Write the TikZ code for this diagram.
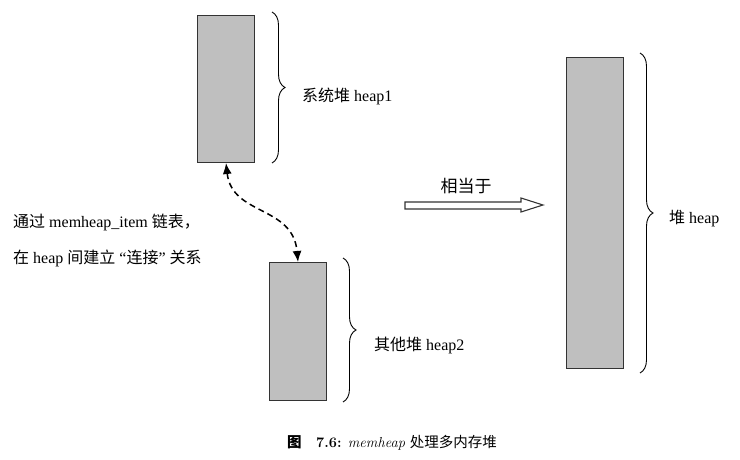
\documentclass[tikz,border=0pt]{standalone}
\usepackage{fontspec}
\newfontfamily\tnr{Liberation Serif}
\newfontfamily\zh{Noto Sans CJK SC}
\usetikzlibrary{arrows.meta, positioning, decorations.pathreplacing}

\tikzset{
    heapbox/.style={draw=black!80, fill=black!25, line width=1pt,
        anchor=north west, inner sep=0pt},
    heapbrace/.style={decorate, decoration={brace, amplitude=13pt}, line width=0.9pt},
    heaplabel/.style={anchor=west, inner sep=0pt,
        font=\fontsize{16}{18}\selectfont\tnr},
}

\begin{document}
\begin{tikzpicture}[x=1pt, y=-1pt]
    \useasboundingbox (0,0) rectangle (740,460);

    % the heaps
    \node[heapbox, minimum width=57pt, minimum height=147pt] (heap1) at (197,15) {};
    \node[heapbox, minimum width=57pt, minimum height=138pt] (heap2) at (269,262) {};
    \node[heapbox, minimum width=57pt, minimum height=311pt] (heap) at (566,57) {};

    % braces
    \draw[heapbrace] (272,12) -- (272,163);
    \draw[heapbrace] (343,258) -- (343,402);
    \draw[heapbrace] (640,53) -- (640,373);

    \node[heaplabel] (lab1) at (302,96) {{\zh 系统堆} heap1};
    \node[heaplabel] (lab2) at (374,345) {{\zh 其他堆} heap2};
    \node[heaplabel] (lab) at (669,219) {{\zh 堆} heap};

    % linked list
    \draw[dash pattern=on 6pt off 4pt, line width=1.5pt,
        {Latex[length=11pt,width=9pt]}-{Latex[length=11pt,width=9pt]}]
        (heap1.south) .. controls +(6,53) and +(-5,-57) .. (heap2.north);

    \node[heaplabel] (note1) at (13,222) {{\zh 通过} memheap\_item {\zh 链表，}};
    \node[heaplabel] (note2) at (13,258) {{\zh 在} heap {\zh 间建立}
        “{\zh 连接}” {\zh 关系}};

    % equivalent
    \draw[line width=1.1pt, draw=black!80]
        (405,202) -- (521,202) -- (521,198) -- (543,205) -- (521,212)
        -- (521,209) -- (405,209) -- cycle;
    \node[font=\fontsize{17}{19}\selectfont\zh] (eq) at (466,186) {相当于};

    % caption
    \node[font=\fontsize{14.5}{17}\selectfont] (cap) at (392,443)
        {{\zh\bfseries 图}\quad\textbf{7.6:} \textit{memheap} {\zh 处理多内存堆}};
\end{tikzpicture}
\end{document}
